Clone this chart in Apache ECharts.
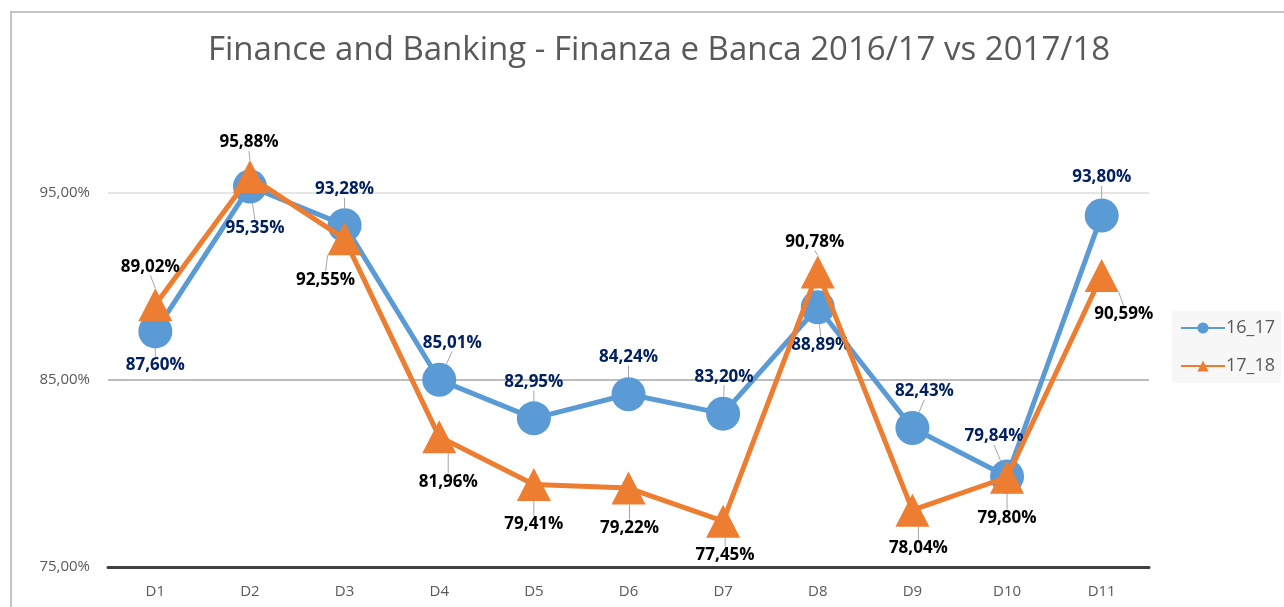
<!DOCTYPE html>
<html>
<head>
<meta charset="utf-8">
<script src="https://cdn.jsdelivr.net/npm/echarts@6/dist/echarts.min.js"></script>
<style>
html,body{margin:0;padding:0;background:#fff;}
#chart{width:1284px;height:607px;}
</style>
</head>
<body>
<div id="chart"></div>
<script>
const categories = ['D1','D2','D3','D4','D5','D6','D7','D8','D9','D10','D11'];
const series1617 = [87.60, 95.35, 93.28, 85.01, 82.95, 84.24, 83.20, 88.89, 82.43, 79.84, 93.80];
const series1718 = [89.02, 95.88, 92.55, 81.96, 79.41, 79.22, 77.45, 90.78, 78.04, 79.80, 90.59];
const seriesNames = ['16_17', '17_18'];
const yTicks = [75, 85, 95];

// label placement (offset of label centre from the point, in px)
const labelDx1617 = [0, 5, 0, 13, 0, 0, 1, 3, 12, -13, 0];
const labelDy1617 = [34, 42, -36, -37, -36, -37, -37, 38, -37, -40, -38];
const labelDx1718 = [-5, -1, -19, 9, 0, 1, 2, -3, 6, 0, 22];
const labelDy1718 = [-38, -34, 41, 45, 40, 40, 34, -30, 38, 41, 39];

const fmt = v => v.toFixed(2).replace('.', ',') + '%';

const chart = echarts.init(document.getElementById('chart'), null, {renderer: 'canvas'});
const font = "'Open Sans', sans-serif";

function makeSeries(name, data, color, symbol, size, labelColor, dxs, dys, z) {
  return {
    name: name,
    type: 'line',
    data: data,
    z: z,
    symbol: symbol,
    symbolSize: size,
    lineStyle: {color: color, width: 5},
    itemStyle: {color: color},
    emphasis: {disabled: true},
    label: {
      show: true,
      position: 'inside',
      formatter: p => fmt(p.value),
      color: labelColor,
      fontFamily: font,
      fontWeight: 'bold',
      fontSize: 17
    },
    labelLine: {show: true, lineStyle: {color: '#a6a6a6', width: 1}},
    labelLayout: p => ({dx: dxs[p.dataIndex], dy: dys[p.dataIndex]}),
    animation: false
  };
}

chart.setOption({
  animation: false,
  backgroundColor: '#fff',
  graphic: [{
    type: 'rect',
    shape: {x: 11, y: 12, width: 1400, height: 700},
    style: {fill: 'none', stroke: '#c4c4c4', lineWidth: 2},
    silent: true,
    z: -10
  }],
  title: {
    text: 'Finance and Banking - Finanza e Banca 2016/17 vs 2017/18',
    left: 203,
    top: 29,
    textStyle: {fontFamily: font, fontWeight: 'normal', fontSize: 33, color: '#595959'}
  },
  legend: {
    orient: 'vertical',
    left: 1172,
    top: 311,
    width: 110,
    padding: [8, 6, 8, 8],
    backgroundColor: '#f7f7f7',
    itemWidth: 44,
    itemHeight: 14,
    itemGap: 20,
    textStyle: {fontFamily: font, fontSize: 18, color: '#595959', padding: [0, 0, 0, -4]},
    data: seriesNames
  },
  grid: {left: 108, right: 135, top: 99.5, bottom: 40, containLabel: false},
  xAxis: {
    type: 'category',
    data: categories,
    boundaryGap: true,
    axisLine: {show: true, lineStyle: {color: '#404040', width: 3}},
    axisTick: {show: false},
    axisLabel: {fontFamily: font, fontSize: 15, color: '#595959', margin: 17}
  },
  yAxis: {
    type: 'value',
    min: 75,
    max: 100,
    interval: 10,
    axisLine: {show: false},
    axisTick: {show: false},
    axisLabel: {
      fontFamily: font, fontSize: 15, color: '#595959', margin: 18,
      formatter: v => yTicks.indexOf(v) >= 0 ? v.toFixed(2).replace('.', ',') + '%' : ''
    },
    splitLine: {show: true, lineStyle: {color: ['#404040', '#a6a6a6', '#dcdcdc', 'rgba(0,0,0,0)'], width: 1.5}}
  },
  series: [
    makeSeries(seriesNames[0], series1617, '#5b9bd5', 'circle', 34, '#002060', labelDx1617, labelDy1617, 2),
    makeSeries(seriesNames[1], series1718, '#ed7d31', 'triangle', [34, 33], '#000000', labelDx1718, labelDy1718, 3)
  ]
});
</script>
</body>
</html>
